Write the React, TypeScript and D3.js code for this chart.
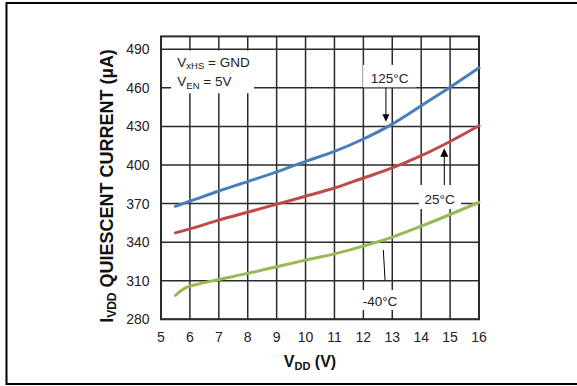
import React from "react";
import * as d3 from "d3";

// Supply voltage sample points (V)
const vdd = [5.5, 6, 7, 8, 9, 10, 11, 12, 13, 14, 15, 16];
// Quiescent current (µA) per temperature
const i125 = [367.9, 371.8, 379.8, 387.1, 394.6, 402.8, 410.6, 420.2, 431.8, 446.0, 460.5, 475.5];
const i25 = [347.2, 350.3, 357.1, 363.3, 369.5, 375.7, 382.1, 389.9, 397.7, 407.2, 418.3, 430.5];
const vddCold = [5.5, 5.7, 5.9, 6.2, 7, 8, 9, 10, 11, 12, 13, 14, 15, 16];
const iCold = [298.6, 302.4, 305.0, 306.9, 311.0, 315.7, 320.9, 326.0, 330.9, 336.9, 343.9, 352.4, 361.5, 371.0];

const xTicks = [5, 6, 7, 8, 9, 10, 11, 12, 13, 14, 15, 16];
const yTicks = [280, 310, 340, 370, 400, 430, 460, 490];

const W = 577;
const H = 386;
const FONT = "'Liberation Sans', Arial, Helvetica, sans-serif";

const x = d3.scaleLinear().domain([5, 16]).range([161, 479]);
const y = d3.scaleLinear().domain([280, 500]).range([319.3, 36.4]);

const line = d3
  .line<[number, number]>()
  .x((d) => x(d[0]))
  .y((d) => y(d[1]))
  .curve(d3.curveMonotoneX);

const series = [
  { xs: vdd, ys: i125, color: "#4a7ebb" },
  { xs: vdd, ys: i25, color: "#be4b48" },
  { xs: vddCold, ys: iCold, color: "#98b954" },
];

// White label panels that interrupt the grid, in data units
const panels = [
  { x0: 5.35, x1: 8.22, y0: 455.8, y1: 489.1 },
  { x0: 11.99, x1: 13.82, y0: 460.4, y1: 477.8 },
  { x0: 13.92, x1: 15.38, y0: 365.8, y1: 384.4 },
  { x0: 11.81, x1: 13.33, y0: 287.2, y1: 302.8 },
];

const gridColor = "#2b2b2b";

export default function App() {
  const arrowDown = (vx: number, vTop: number, vTip: number) => {
    const px = x(vx);
    const top = y(vTop);
    const tip = y(vTip);
    return (
      <g>
        <line x1={px} x2={px} y1={top} y2={tip - 6} stroke="#000" strokeWidth={1} />
        <path d={`M${px - 3.5},${tip - 7.5}L${px + 3.5},${tip - 7.5}L${px},${tip}Z`} fill="#000" />
      </g>
    );
  };
  const arrowUp = (vx: number, vBase: number, vTip: number) => {
    const px = x(vx);
    const base = y(vBase);
    const tip = y(vTip);
    return (
      <g>
        <line x1={px} x2={px} y1={base} y2={tip + 6} stroke="#000" strokeWidth={1} />
        <path d={`M${px - 4},${tip + 8.5}L${px + 4},${tip + 8.5}L${px},${tip}Z`} fill="#000" />
      </g>
    );
  };

  return (
    <svg
      width={W}
      height={H}
      style={{ position: "fixed", left: 0, top: 0, background: "#fff" }}
      fontFamily={FONT}
    >
      <rect x={0} y={0} width={W} height={H} fill="#fff" />
      {/* outer frame */}
      <rect x={6.5} y={3} width={W + 10} height={381} fill="none" stroke="#000" strokeWidth={2} />

      {/* grid */}
      {xTicks.map((t) => (
        <line key={"gx" + t} x1={x(t)} x2={x(t)} y1={y(500)} y2={y(280)} stroke={gridColor} strokeWidth={1.5} />
      ))}
      {yTicks.map((t) => (
        <line key={"gy" + t} x1={x(5)} x2={x(16)} y1={y(t)} y2={y(t)} stroke={gridColor} strokeWidth={1.5} />
      ))}

      {panels.map((p, i) => (
        <rect
          key={"p" + i}
          x={x(p.x0)}
          y={y(p.y1)}
          width={x(p.x1) - x(p.x0)}
          height={y(p.y0) - y(p.y1)}
          fill="#fff"
        />
      ))}

      {/* plot border */}
      <rect
        x={x(5)}
        y={y(500)}
        width={x(16) - x(5)}
        height={y(280) - y(500)}
        fill="none"
        stroke={gridColor}
        strokeWidth={2}
      />

      {/* curves */}
      {series.map((s, i) => (
        <path
          key={"s" + i}
          d={line(s.xs.map((v, j) => [v, s.ys[j]] as [number, number])) || ""}
          fill="none"
          stroke={s.color}
          strokeWidth={3}
          strokeLinecap="round"
        />
      ))}

      {/* tick labels */}
      {yTicks.map((t) => (
        <text key={"ty" + t} x={149.5} y={y(t)} dy="0.36em" textAnchor="end" fontSize={14} fill="#222">
          {t}
        </text>
      ))}
      {xTicks.map((t) => (
        <text key={"tx" + t} x={x(t)} y={341.5} textAnchor="middle" fontSize={14} fill="#222">
          {t}
        </text>
      ))}

      {/* axis titles */}
      <text x={310} y={366.7} textAnchor="middle" fontSize={16} fontWeight="bold" fill="#111">
        V<tspan fontSize={11} dy={3}>DD</tspan>
        <tspan dy={-3}> (V)</tspan>
      </text>
      <text
        transform={`translate(113,186) rotate(-90)`}
        textAnchor="middle"
        fontSize={18}
        fontWeight="bold"
        fill="#111"
      >
        I<tspan fontSize={12} dy={3}>VDD</tspan>
        <tspan dy={-3}> QUIESCENT CURRENT (µA)</tspan>
      </text>

      {/* conditions */}
      <text x={x(5.564)} y={y(476.5)} fontSize={13.5} fill="#222">
        V<tspan fontSize={9.5} dy={2.5}>xHS</tspan>
        <tspan dy={-2.5}> = GND</tspan>
      </text>
      <text x={x(5.564)} y={y(461.1)} fontSize={13.5} fill="#222">
        V<tspan fontSize={9.5} dy={2.5}>EN</tspan>
        <tspan dy={-2.5}> = 5V</tspan>
      </text>

      {/* temperature labels */}
      <text x={x(12.911)} y={y(463.5)} textAnchor="middle" fontSize={13.5} fill="#222">
        125°C
      </text>
      <text x={x(14.64)} y={y(369.7)} textAnchor="middle" fontSize={13.5} fill="#222">
        25°C
      </text>
      <text x={x(12.575)} y={y(290.3)} textAnchor="middle" fontSize={13.5} fill="#222">
        -40°C
      </text>

      {arrowDown(12.78, 460, 433.7)}
      {arrowUp(14.8, 384.4, 413)}
      <line x1={x(12.69)} y1={y(333.9)} x2={x(12.75)} y2={y(310.6)} stroke="#000" strokeWidth={1} />
    </svg>
  );
}
